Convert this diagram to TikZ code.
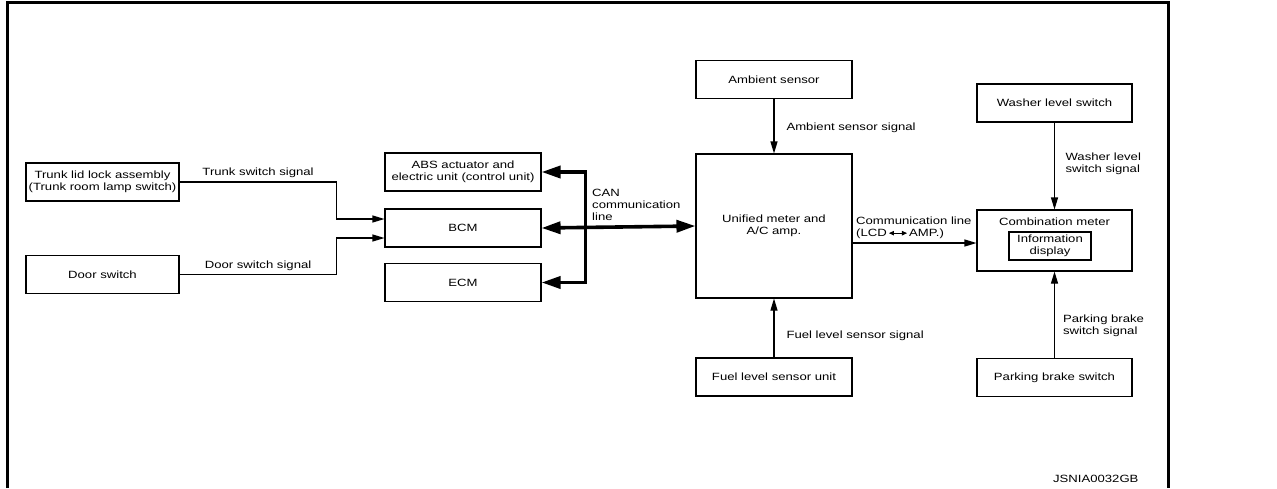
\documentclass[tikz,border=0pt]{standalone}
\usepackage{fontspec}
\setmainfont{Liberation Sans}[FakeStretch=1.25]
\usetikzlibrary{arrows.meta}

\tikzset{
  unit/.style={draw, line width=1.1pt, align=center, inner sep=0pt,
    minimum width=156pt, minimum height=38pt},
  sig/.style={line width=1.1pt, -{Triangle[length=12pt,width=7pt]}},
  can/.style={line width=3.6pt, {Triangle[length=19pt,width=12pt]}-{Triangle[length=19pt,width=12pt]}},
  lbl/.style={align=left, inner sep=0pt},
}
\newcommand{\lcdamp}{\,\tikz[baseline=-0.55ex]\draw[line width=0.8pt,{Triangle[length=5pt,width=4.5pt]}-{Triangle[length=5pt,width=4.5pt]}] (0pt,0pt) -- (18pt,0pt);\,}

\begin{document}
\begin{tikzpicture}[x=1pt,y=-1pt,font=\fontsize{10.5}{12}\selectfont]
\useasboundingbox (0,0) rectangle (1277,488);
\draw[line width=3pt] (7,488) -- (7,2) -- (1168,2) -- (1168,488);

% left switches
\node[unit, minimum width=153pt] (trunk) at (102.5,182) {Trunk lid lock assembly\\(Trunk room lamp switch)};
\node[unit, minimum width=153pt] (door) at (102.5,274.5) {Door switch};

% CAN units
\node[unit] (abs) at (463,172) {ABS actuator and\\electric unit (control unit)};
\node[unit] (bcm) at (463,228) {BCM};
\node[unit] (ecm) at (463,282.5) {ECM};

% meter and sensors
\node[unit] (amb) at (774,79.5) {Ambient sensor};
\node[unit, minimum height=144pt] (unified) at (774,226) {Unified meter and\\A/C amp.};
\node[unit] (fuel) at (774,377) {Fuel level sensor unit};

% right column
\node[unit, minimum width=155pt] (washer) at (1054.5,103) {Washer level switch};
\node[unit, minimum width=155pt, minimum height=61pt] (comb) at (1054.5,240.5) {};
\node (combtxt) at (1054.5,222) {Combination meter};
\node[unit, minimum width=82pt, minimum height=28pt] (info) at (1050,246) {Information\\display};
\node[unit, minimum width=155pt] (park) at (1054.5,377.5) {Parking brake switch};

% signals into BCM
\draw[sig] (trunk.east) -- ++(157,0) node[midway, above=0pt] {Trunk switch signal} |- ([yshift=9pt]bcm.west);
\draw[sig] (door.east) -- ++(157,0) node[midway, above=0pt] {Door switch signal} |- ([yshift=-10pt]bcm.west);

% CAN communication line
\draw[can] (abs.east) -- ++(44,0) -- ([xshift=44pt]ecm.east) -- (ecm.east);
\draw[can] (bcm.east) -- (unified.west);
\node[lbl, anchor=west] (canlbl) at (592,205) {CAN\\communication\\line};

% sensor signals
\draw[sig] (amb.south) -- (unified.north) node[midway, right=12pt, lbl, yshift=-2pt] {Ambient sensor signal};
\draw[sig] (fuel.north) -- (unified.south) node[pos=0.37, right=12pt, lbl] {Fuel level sensor signal};

% meter communication
\coordinate (cmin) at ([yshift=-2.5pt]comb.west);
\draw[sig] (unified.east |- cmin) -- (cmin);
\node[lbl, anchor=west] (commlbl) at (856,227.5) {Communication line\\(LCD\lcdamp AMP.)};

\draw[sig] (washer.south) -- (comb.north) node[pos=0.48, right=10.5pt, lbl] {Washer level\\switch signal};
\draw[sig] (park.north) -- (comb.south) node[pos=0.37, right=8pt, lbl] {Parking brake\\switch signal};

\node[anchor=east] (code) at (1142,479) {JSNIA0032GB};
\end{tikzpicture}
\end{document}
